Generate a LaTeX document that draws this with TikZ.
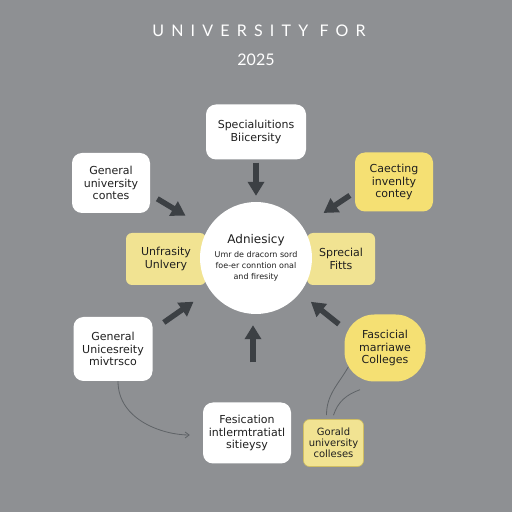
\documentclass[tikz,border=0pt]{standalone}
\usepackage{fontspec}
\setmainfont{DejaVu Sans}
\newfontfamily\titlefont{Lato}
\newfontfamily\titlespaced[LetterSpace=45]{Lato}
\usetikzlibrary{arrows.meta,positioning,calc}
\definecolor{Slate}{HTML}{8E9093}
\definecolor{Ink}{HTML}{3C4044}
\definecolor{Butter}{HTML}{F5E073}
\definecolor{PaleButter}{HTML}{F1E392}
\definecolor{Thread}{HTML}{5F6367}
\tikzset{
 box/.style={fill=white,rounded corners=10pt,align=center,text=black!88,
   font=\fontsize{11}{12.5}\selectfont,inner sep=2pt},
 ybox/.style={box,fill=Butter},
 side/.style={box,fill=PaleButter,rounded corners=6pt},
 hub/.style={circle,fill=white,minimum size=112pt,align=center,inner sep=0pt,
   text=black!88,font=\fontsize{8}{11}\selectfont},
 arr/.style={-{Triangle[length=14pt,width=16pt]},line width=5.5pt,draw=Ink},
 thread/.style={draw=Thread,line width=0.8pt}
}
\begin{document}
\begin{tikzpicture}[x=1pt,y=1pt]
\fill[Slate] (0,0) rectangle (512,512);
\useasboundingbox (0,0) rectangle (512,512);
\node[text=white,font=\titlespaced\fontsize{16}{18}\selectfont] (ttl) at (259,481) {UNIVERSITY FOR};
\node[text=white,font=\titlefont\fontsize{16}{18}\selectfont] (yr) at (256,452) {2025};
% side bars sit under the hub
\node[side,minimum width=80pt,minimum height=52pt] (uf) at (166,253) {Unfrasity\\Unlvery};
\node[side,minimum width=68pt,minimum height=52pt] (sp) at (341,253) {Sprecial\\Fitts};
\node[hub] (adm) at (256,254) {{\fontsize{12}{14}\selectfont Adniesicy}\\[3pt]Umr de dracorn sord\\foe-er conntion onal\\and firesity};
\node[box,minimum width=100pt,minimum height=55pt] (spec) at (256,380) {Specialuitions\\Biicersity};
\node[box,minimum width=78pt,minimum height=60pt] (gl) at (111,329) {General\\university\\contes};
\node[ybox,minimum width=78pt,minimum height=59pt] (cr) at (394,330) {Caecting\\invenlty\\contey};
\node[box,minimum width=79pt,minimum height=64pt] (gll) at (113,163) {General\\Unicesreity\\mivtrsco};
\node[ybox,minimum width=81pt,minimum height=67pt,rounded corners=30pt] (fa) at (385,164) {Fascicial\\marriawe\\Colleges};
\node[box,minimum width=88pt,minimum height=61pt] (fe) at (247,79) {Fesication\\intlermtratiatl\\sitieysy};
\node[box,fill=PaleButter,draw=Butter!85!black,line width=0.6pt,rounded corners=6pt,
  minimum width=60pt,minimum height=47pt,font=\fontsize{10}{11}\selectfont,
  right=12pt of fe,yshift=-10pt] (go) {Gorald\\university\\colleses};
% heavy arrows into the hub
\draw[arr,shorten <=3pt,shorten >=6pt] (spec) -- (adm);
\draw[arr,shorten <=54pt,shorten >=26pt] ([yshift=12pt]gl.center) -- (adm);
\draw[arr,shorten <=53pt,shorten >=25pt] ([yshift=16pt]cr.center) -- (adm);
\draw[arr,shorten <=62pt,shorten >=20pt] ([yshift=-9pt]gll.center) -- (adm);
\draw[arr,shorten <=59pt,shorten >=14pt] ([yshift=-13pt]fa.center) -- (adm);
\draw[arr,shorten <=40pt,shorten >=11pt] ([xshift=6pt]fe.north) -- ([xshift=6pt]fe.north |- adm.south);
% thin threads
\draw[thread,-{Straight Barb[length=4pt,width=6pt]},shorten >=13pt] ([xshift=5pt]gll.south) to[out=-90,in=180] ([yshift=-2pt]fe.west);
\coordinate (fb) at ([xshift=-25pt,yshift=-8pt]fa.south);
\draw[thread] ([xshift=4pt,yshift=-19pt]fa.west) to[out=-120,in=90] ([xshift=-7pt,yshift=4pt]go.north);
\draw[thread] (fb) to[out=200,in=72] ([yshift=4pt]go.north);
\end{tikzpicture}
\end{document}
